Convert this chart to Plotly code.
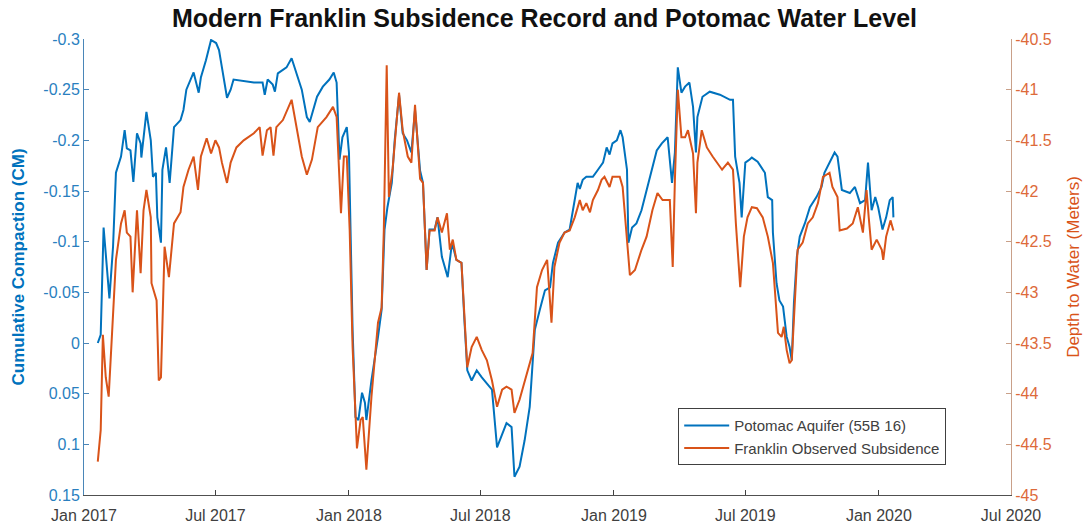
import plotly.graph_objects as go

# ---------------- data ----------------
potomac_dates = [
    "2017-01-20", "2017-01-24", "2017-01-28", "2017-02-01", "2017-02-05", "2017-02-10", "2017-02-14",
    "2017-02-21", "2017-02-26", "2017-03-01", "2017-03-06", "2017-03-10", "2017-03-15", "2017-03-20",
    "2017-03-21", "2017-03-28", "2017-04-03", "2017-04-06", "2017-04-10", "2017-04-12", "2017-04-17",
    "2017-04-19", "2017-04-24", "2017-04-29", "2017-05-05", "2017-05-14", "2017-05-18", "2017-05-22",
    "2017-05-28", "2017-06-01", "2017-06-08", "2017-06-11", "2017-06-18", "2017-06-25", "2017-07-02",
    "2017-07-06", "2017-07-10", "2017-07-17", "2017-07-22", "2017-07-26", "2017-08-23", "2017-09-04",
    "2017-09-07", "2017-09-11", "2017-09-18", "2017-09-21", "2017-09-25", "2017-10-07", "2017-10-14",
    "2017-10-21", "2017-10-28", "2017-11-04", "2017-11-08", "2017-11-18", "2017-11-26", "2017-12-05",
    "2017-12-11", "2017-12-15", "2017-12-19", "2017-12-23", "2017-12-29", "2018-01-01", "2018-01-06",
    "2018-01-10", "2018-01-14", "2018-01-19", "2018-01-23", "2018-01-25", "2018-02-01", "2018-02-10",
    "2018-02-15", "2018-02-19", "2018-02-23", "2018-03-01", "2018-03-05", "2018-03-11", "2018-03-16",
    "2018-03-22", "2018-03-28", "2018-04-02", "2018-04-09", "2018-04-13", "2018-04-18", "2018-04-22",
    "2018-04-29", "2018-05-03", "2018-05-09", "2018-05-17", "2018-05-23", "2018-05-29", "2018-06-05",
    "2018-06-09", "2018-06-13", "2018-06-19", "2018-06-26", "2018-07-03", "2018-07-10", "2018-07-17",
    "2018-07-24", "2018-07-31", "2018-08-06", "2018-08-13", "2018-08-17", "2018-08-24", "2018-08-31",
    "2018-09-07", "2018-09-14", "2018-09-21", "2018-09-28", "2018-10-05", "2018-10-09", "2018-10-16",
    "2018-10-25", "2018-11-01", "2018-11-12", "2018-11-15", "2018-11-19", "2018-11-24", "2018-12-03",
    "2018-12-10", "2018-12-17", "2018-12-22", "2018-12-26", "2018-12-30", "2019-01-05", "2019-01-10",
    "2019-01-13", "2019-01-19", "2019-01-21", "2019-01-26", "2019-02-01", "2019-02-08", "2019-02-15",
    "2019-02-22", "2019-03-01", "2019-03-08", "2019-03-16", "2019-03-22", "2019-03-26", "2019-03-30",
    "2019-04-04", "2019-04-09", "2019-04-15", "2019-04-20", "2019-04-24", "2019-04-26", "2019-05-03",
    "2019-05-13", "2019-05-27", "2019-06-10", "2019-06-14", "2019-06-17", "2019-06-23", "2019-06-26",
    "2019-07-01", "2019-07-07", "2019-07-10", "2019-07-18", "2019-07-28", "2019-08-01", "2019-08-07",
    "2019-08-08", "2019-08-13", "2019-08-17", "2019-08-22", "2019-08-27", "2019-08-31", "2019-09-03",
    "2019-09-06", "2019-09-10", "2019-09-14", "2019-09-21", "2019-09-28", "2019-10-07", "2019-10-14",
    "2019-10-18", "2019-10-25", "2019-11-01", "2019-11-05", "2019-11-11", "2019-11-22", "2019-11-29",
    "2019-12-06", "2019-12-13", "2019-12-17", "2019-12-22", "2019-12-27", "2019-12-31", "2020-01-06",
    "2020-01-11", "2020-01-16", "2020-01-20", "2020-01-21",
]
potomac_compaction = [
    0.000, -0.008, -0.114, -0.079, -0.044, -0.095, -0.168,
    -0.184, -0.210, -0.192, -0.190, -0.159, -0.207, -0.197,
    -0.183, -0.228, -0.200, -0.164, -0.168, -0.124, -0.099,
    -0.171, -0.193, -0.158, -0.213, -0.220, -0.230, -0.250,
    -0.260, -0.267, -0.247, -0.262, -0.279, -0.299, -0.296,
    -0.289, -0.272, -0.242, -0.250, -0.260, -0.257, -0.257,
    -0.245, -0.260, -0.255, -0.248, -0.266, -0.272, -0.281,
    -0.266, -0.250, -0.223, -0.218, -0.243, -0.253, -0.260,
    -0.267, -0.257, -0.181, -0.203, -0.213, -0.188, -0.013,
    0.073, 0.076, 0.049, 0.059, 0.076, 0.037, -0.006,
    -0.033, -0.112, -0.134, -0.158, -0.200, -0.245, -0.207,
    -0.200, -0.188, -0.230, -0.170, -0.158, -0.072, -0.112,
    -0.112, -0.124, -0.085, -0.065, -0.099, -0.082, -0.079,
    -0.023, 0.027, 0.037, 0.027, 0.034, 0.040, 0.046,
    0.103, 0.089, 0.079, 0.083, 0.132, 0.122, 0.096,
    0.063, -0.013, -0.033, -0.052, -0.055, -0.079, -0.099,
    -0.109, -0.112, -0.158, -0.152, -0.161, -0.164, -0.164,
    -0.171, -0.178, -0.193, -0.186, -0.197, -0.200, -0.210,
    -0.203, -0.171, -0.099, -0.114, -0.118, -0.131, -0.151,
    -0.171, -0.190, -0.197, -0.203, -0.158, -0.188, -0.272,
    -0.247, -0.253, -0.257, -0.233, -0.188, -0.223, -0.243,
    -0.248, -0.245, -0.240, -0.240, -0.184, -0.158, -0.124,
    -0.178, -0.181, -0.183, -0.179, -0.168, -0.144, -0.141,
    -0.109, -0.059, -0.042, -0.036, -0.006, 0.004, 0.017,
    -0.040, -0.085, -0.105, -0.118, -0.134, -0.144, -0.154,
    -0.168, -0.178, -0.188, -0.184, -0.151, -0.148, -0.154,
    -0.138, -0.141, -0.178, -0.131, -0.144, -0.134, -0.112,
    -0.124, -0.141, -0.144, -0.124,
]

franklin_dates = [
    "2017-01-20", "2017-01-24", "2017-01-27", "2017-01-31", "2017-02-04", "2017-02-08", "2017-02-14",
    "2017-02-21", "2017-02-26", "2017-03-01", "2017-03-06", "2017-03-09", "2017-03-15", "2017-03-20",
    "2017-03-24", "2017-03-28", "2017-04-03", "2017-04-04", "2017-04-11", "2017-04-14", "2017-04-17",
    "2017-04-22", "2017-04-28", "2017-05-05", "2017-05-14", "2017-05-18", "2017-05-25", "2017-06-01",
    "2017-06-07", "2017-06-11", "2017-06-19", "2017-06-25", "2017-07-01", "2017-07-06", "2017-07-10",
    "2017-07-17", "2017-07-22", "2017-07-30", "2017-08-09", "2017-08-23", "2017-08-31", "2017-09-04",
    "2017-09-10", "2017-09-15", "2017-09-19", "2017-09-23", "2017-10-02", "2017-10-14", "2017-10-21",
    "2017-10-28", "2017-11-04", "2017-11-11", "2017-11-19", "2017-12-01", "2017-12-10", "2017-12-15",
    "2017-12-21", "2017-12-25", "2017-12-29", "2018-01-02", "2018-01-06", "2018-01-12", "2018-01-17",
    "2018-01-20", "2018-01-25", "2018-02-01", "2018-02-10", "2018-02-15", "2018-02-18", "2018-02-22",
    "2018-02-25", "2018-03-02", "2018-03-11", "2018-03-16", "2018-03-23", "2018-03-28", "2018-04-02",
    "2018-04-09", "2018-04-13", "2018-04-18", "2018-04-22", "2018-04-29", "2018-05-03", "2018-05-09",
    "2018-05-16", "2018-05-20", "2018-05-24", "2018-05-29", "2018-06-05", "2018-06-09", "2018-06-13",
    "2018-06-19", "2018-06-26", "2018-07-03", "2018-07-10", "2018-07-17", "2018-07-24", "2018-07-31",
    "2018-08-06", "2018-08-13", "2018-08-17", "2018-08-24", "2018-09-04", "2018-09-11", "2018-09-17",
    "2018-09-24", "2018-10-01", "2018-10-07", "2018-10-11", "2018-10-18", "2018-10-25", "2018-11-01",
    "2018-11-08", "2018-11-15", "2018-11-19", "2018-11-24", "2018-11-29", "2018-12-03", "2018-12-10",
    "2018-12-15", "2018-12-19", "2018-12-26", "2018-12-30", "2019-01-09", "2019-01-13", "2019-01-20",
    "2019-01-23", "2019-01-30", "2019-02-08", "2019-02-15", "2019-02-23", "2019-03-02", "2019-03-09",
    "2019-03-19", "2019-03-23", "2019-03-26", "2019-03-30", "2019-04-04", "2019-04-09", "2019-04-13",
    "2019-04-20", "2019-04-24", "2019-04-26", "2019-05-02", "2019-05-09", "2019-05-17", "2019-05-30",
    "2019-06-07", "2019-06-14", "2019-06-18", "2019-06-22", "2019-06-24", "2019-06-29", "2019-07-04",
    "2019-07-10", "2019-07-17", "2019-07-25", "2019-08-01", "2019-08-08", "2019-08-12", "2019-08-15",
    "2019-08-20", "2019-08-23", "2019-08-27", "2019-08-31", "2019-09-03", "2019-09-07", "2019-09-11",
    "2019-09-18", "2019-09-25", "2019-10-02", "2019-10-09", "2019-10-16", "2019-10-25", "2019-10-29",
    "2019-11-05", "2019-11-08", "2019-11-18", "2019-11-26", "2019-12-03", "2019-12-10", "2019-12-15",
    "2019-12-18", "2019-12-22", "2019-12-29", "2020-01-05", "2020-01-07", "2020-01-11", "2020-01-17",
    "2020-01-21",
]
franklin_depth = [
    -44.67, -44.36, -43.42, -43.84, -44.03, -43.50, -42.68,
    -42.32, -42.19, -42.41, -42.45, -43.00, -42.19, -42.81,
    -42.19, -41.99, -42.26, -42.91, -43.08, -43.87, -43.84,
    -42.55, -42.85, -42.32, -42.21, -41.96, -41.79, -41.66,
    -41.99, -41.66, -41.48, -41.63, -41.50, -41.57, -41.72,
    -41.92, -41.72, -41.57, -41.50, -41.43, -41.37, -41.65,
    -41.40, -41.37, -41.65, -41.37, -41.30, -41.10, -41.40,
    -41.66, -41.84, -41.69, -41.37, -41.27, -41.17, -41.27,
    -42.22, -41.66, -41.66, -42.39, -43.54, -44.54, -44.26,
    -44.23, -44.75, -44.03, -43.30, -43.15, -42.39, -40.76,
    -42.06, -41.79, -41.03, -41.40, -41.66, -41.72, -41.15,
    -41.88, -41.92, -42.78, -42.39, -42.39, -42.26, -42.41,
    -42.22, -42.58, -42.48, -42.68, -42.71, -43.20, -43.74,
    -43.54, -43.44, -43.57, -43.67, -43.87, -44.13, -43.96,
    -43.93, -43.96, -44.19, -44.06, -43.77, -43.60, -42.95,
    -42.78, -42.68, -43.30, -42.75, -42.51, -42.41, -42.39,
    -42.26, -42.09, -42.19, -42.12, -42.21, -42.09, -41.99,
    -41.89, -41.86, -41.96, -41.86, -41.86, -41.96, -42.58,
    -42.83, -42.78, -42.58, -42.45, -42.19, -42.02, -42.09,
    -42.09, -42.75, -41.89, -41.00, -41.47, -41.47, -41.40,
    -41.63, -42.22, -41.72, -41.40, -41.57, -41.66, -41.79,
    -41.72, -41.79, -42.32, -42.71, -42.95, -42.45, -42.26,
    -42.16, -42.17, -42.26, -42.45, -42.71, -43.17, -43.40,
    -43.44, -43.34, -43.57, -43.70, -43.67, -43.05, -42.58,
    -42.51, -42.32, -42.26, -42.12, -41.86, -41.82, -41.96,
    -42.06, -42.39, -42.37, -42.32, -42.16, -42.41, -41.99,
    -42.26, -42.58, -42.48, -42.58, -42.68, -42.45, -42.29,
    -42.39,
]

x_tick_dates = ["2017-01-01", "2017-07-01", "2018-01-01", "2018-07-01",
                "2019-01-01", "2019-07-01", "2020-01-01", "2020-07-01"]
x_tick_labels = ["Jan 2017", "Jul 2017", "Jan 2018", "Jul 2018",
                 "Jan 2019", "Jul 2019", "Jan 2020", "Jul 2020"]
left_tick_vals = [-0.3, -0.25, -0.2, -0.15, -0.1, -0.05, 0, 0.05, 0.1, 0.15]
left_tick_labels = ["-0.3", "-0.25", "-0.2", "-0.15", "-0.1", "-0.05", "0", "0.05", "0.1", "0.15"]
right_tick_vals = [-45, -44.5, -44, -43.5, -43, -42.5, -42, -41.5, -41, -40.5]
right_tick_labels = ["-45", "-44.5", "-44", "-43.5", "-43", "-42.5", "-42", "-41.5", "-41", "-40.5"]

BLUE = "#0072BD"
ORANGE = "#D95319"
FONT = "Liberation Sans, Arial, sans-serif"

fig = go.Figure()
fig.add_trace(go.Scatter(
    x=potomac_dates, y=potomac_compaction, mode="lines",
    name="Potomac Aquifer (55B 16)", line=dict(color=BLUE, width=2), yaxis="y"))
fig.add_trace(go.Scatter(
    x=franklin_dates, y=franklin_depth, mode="lines",
    name="Franklin Observed Subsidence", line=dict(color=ORANGE, width=2), yaxis="y2"))

fig.update_layout(
    width=1089, height=529,
    margin=dict(l=84, r=78, t=39, b=34, autoexpand=False),
    paper_bgcolor="white", plot_bgcolor="white",
    font=dict(family=FONT, size=15, color="#404040"),
    title=dict(text="<b>Modern Franklin Subsidence Record and Potomac Water Level</b>",
               x=0.5, xanchor="center", y=0.966, yanchor="middle",
               font=dict(family=FONT, size=25, color="#111111")),
    showlegend=True,
    legend=dict(x=0.641, y=0.19, xanchor="left", yanchor="top",
                bgcolor="white", bordercolor="#404040", borderwidth=1,
                font=dict(family=FONT, size=15, color="#404040"),
                itemwidth=45, tracegroupgap=0),
    xaxis=dict(type="date", range=["2017-01-01", "2020-07-01"],
               tickvals=x_tick_dates, ticktext=x_tick_labels,
               ticks="inside", ticklen=5, tickcolor="#404040",
               showline=True, linecolor="#505050", linewidth=1,
               showgrid=False, zeroline=False, ticklabelstandoff=6,
               tickfont=dict(family=FONT, size=16, color="#404040")),
    yaxis=dict(range=[0.15, -0.3], tickvals=left_tick_vals, ticktext=left_tick_labels,
               ticks="inside", ticklen=5, tickcolor="#4a86b8",
               showline=True, linecolor="#4a86b8", linewidth=1,
               showgrid=False, zeroline=False,
               tickfont=dict(family=FONT, size=16, color="#2a7fbf"),
               title=dict(text="<b>Cumulative Compaction (CM)</b>", standoff=14,
                          font=dict(family=FONT, size=17, color=BLUE))),
    yaxis2=dict(range=[-45, -40.5], tickvals=right_tick_vals, ticktext=right_tick_labels,
                overlaying="y", side="right", anchor="x",
                ticks="inside", ticklen=5, tickcolor="#c9a089",
                showline=True, linecolor="#c9a089", linewidth=1,
                showgrid=False, zeroline=False,
                tickfont=dict(family=FONT, size=16, color="#dd6a3a"),
                title=dict(text="Depth to Water (Meters)", standoff=16,
                           font=dict(family=FONT, size=17, color=ORANGE))),
)

fig.write_html("out.html", config={"displayModeBar": False})
